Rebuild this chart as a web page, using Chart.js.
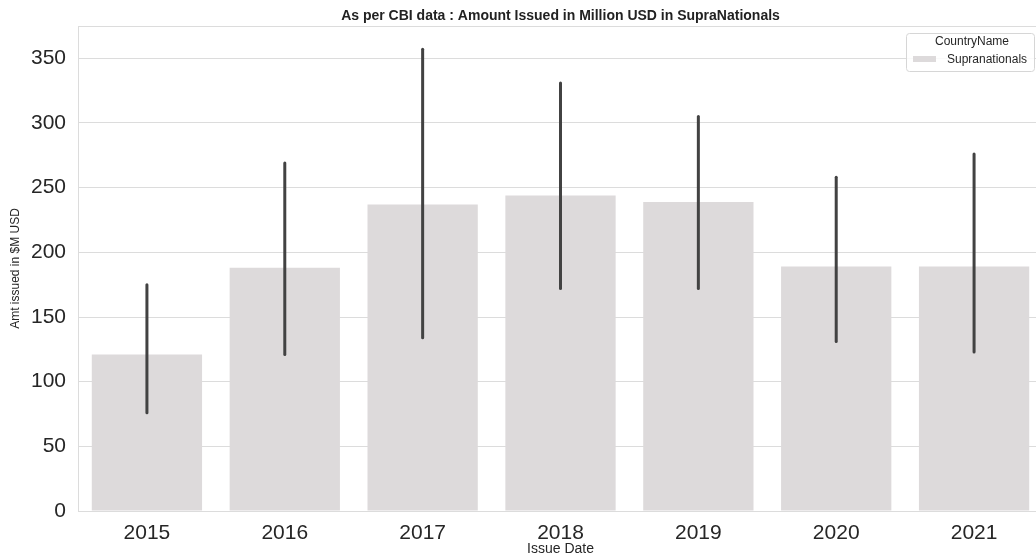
<!DOCTYPE html>
<html>
<head>
<meta charset="utf-8">
<script src="https://cdn.jsdelivr.net/npm/chart.js@4"></script>
<style>
  html, body { margin: 0; padding: 0; background: #fff; overflow: hidden; }
  #wrap { width: 1050px; height: 558px; }
</style>
</head>
<body>
<div id="wrap"><canvas id="barChart" width="1050" height="558"></canvas></div>
<script>
// values
const years = ['2015', '2016', '2017', '2018', '2019', '2020', '2021'];
const amounts = [121, 188, 237, 244, 239, 189, 189];
const errLow = [76, 121, 134, 172, 172, 131, 123];
const errHigh = [175, 269, 357, 331, 305, 258, 276];

const titleText = 'As per CBI data : Amount Issued in Million USD in SupraNationals';
const legendTitle = 'CountryName';
const legendLabel = 'Supranationals';

const barColor = '#dddadb';
const gridColor = '#dcdcdc';
const fontFamily = 'Arial, "Liberation Sans", sans-serif';

// draws the error bars, frame, title and the legend box
const extrasPlugin = {
    id: 'extras',
    afterDatasetsDraw(chart) {
        const ctx = chart.ctx;
        const yScale = chart.scales.y;
        const meta = chart.getDatasetMeta(0);
        ctx.save();
        ctx.strokeStyle = '#424242';
        ctx.lineWidth = 3;
        ctx.lineCap = 'round';
        meta.data.forEach((bar, i) => {
            ctx.beginPath();
            ctx.moveTo(bar.x, yScale.getPixelForValue(errLow[i]));
            ctx.lineTo(bar.x, yScale.getPixelForValue(errHigh[i]));
            ctx.stroke();
        });
        ctx.restore();
    },
    afterDraw(chart) {
        const ctx = chart.ctx;
        const area = chart.chartArea;
        ctx.save();
        // top spine
        ctx.strokeStyle = gridColor;
        ctx.lineWidth = 1;
        ctx.beginPath();
        ctx.moveTo(area.left, area.top + 0.5);
        ctx.lineTo(area.right, area.top + 0.5);
        ctx.stroke();

        // title
        ctx.fillStyle = '#222';
        ctx.font = 'bold 14px ' + fontFamily;
        ctx.textAlign = 'center';
        ctx.textBaseline = 'middle';
        ctx.fillText(titleText, (area.left + area.right) / 2, 16);

        // legend
        const bx = 906, by = 33, bw = 128, bh = 38;
        ctx.fillStyle = 'rgba(255,255,255,0.85)';
        ctx.strokeStyle = '#d6d6d6';
        ctx.beginPath();
        ctx.roundRect(bx + 0.5, by + 0.5, bw, bh, 3);
        ctx.fill();
        ctx.stroke();
        ctx.fillStyle = '#262626';
        ctx.font = '12px ' + fontFamily;
        ctx.fillText(legendTitle, bx + bw / 2 + 2, 42);
        ctx.fillStyle = barColor;
        ctx.fillRect(913, 56, 23, 6);
        ctx.fillStyle = '#262626';
        ctx.textAlign = 'left';
        ctx.fillText(legendLabel, 947, 60);
        ctx.restore();
    }
};

const ctx = document.getElementById('barChart').getContext('2d');
const barChart = new Chart(ctx, {
    type: 'bar',
    data: {
        labels: years,
        datasets: [{
            label: legendLabel,
            data: amounts,
            backgroundColor: barColor,
            borderWidth: 0,
            categoryPercentage: 1.0,
            barPercentage: 0.8
        }]
    },
    options: {
        responsive: false,
        animation: false,
        layout: { padding: { top: 26, right: 7, left: 0, bottom: 0 } },
        plugins: {
            legend: { display: false },
            title: { display: false },
            tooltip: { enabled: false }
        },
        scales: {
            x: {
                grid: { display: false, drawTicks: false },
                border: { display: true, color: gridColor, width: 1 },
                ticks: { color: '#262626', font: { family: fontFamily, size: 21 }, padding: 10 },
                title: {
                    display: true,
                    text: 'Issue Date',
                    color: '#262626',
                    font: { family: fontFamily, size: 14 },
                    padding: { top: 0, bottom: 0 }
                },
                afterFit(scale) { scale.height = 47; }
            },
            y: {
                min: 0,
                max: 375,
                grid: { color: gridColor, lineWidth: 1, drawTicks: false },
                border: { display: true, color: gridColor, width: 1 },
                ticks: {
                    stepSize: 50,
                    color: '#262626',
                    font: { family: fontFamily, size: 21 },
                    padding: 12,
                    callback: function(value) { return value % 50 === 0 ? value : ''; }
                },
                title: {
                    display: true,
                    text: 'Amt issued in $M USD',
                    color: '#262626',
                    font: { family: fontFamily, size: 12 },
                    padding: { top: 8, bottom: 0 }
                },
                afterFit(scale) { scale.width = 78; }
            }
        }
    },
    plugins: [extrasPlugin]
});
</script>
</body>
</html>
